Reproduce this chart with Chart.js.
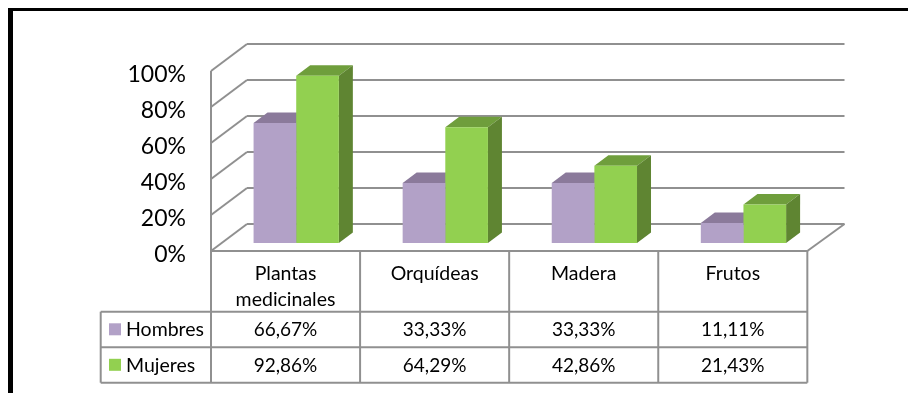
<!DOCTYPE html>
<html>
<head>
<meta charset="utf-8">
<script src="https://cdn.jsdelivr.net/npm/chart.js@4"></script>
<style>
  html, body { margin: 0; padding: 0; background: #fff; }
  canvas { display: block; }
</style>
</head>
<body>
<canvas id="chart" width="908" height="393"></canvas>
<script>
const categories = [["Plantas", "medicinales"], "Orquídeas", "Madera", "Frutos"];
const hombres = [66.67, 33.33, 33.33, 11.11];
const mujeres = [92.86, 64.29, 42.86, 21.43];
const yTicks = [0, 20, 40, 60, 80, 100];

const FONT = "Lato, sans-serif";
const GRID = "#909090";
// bars stand a little behind the front edge of the floor
const FRONT = { x: -10.67, y: 8 };
const BACK = { x: 25.33, y: -19 };
const BACK_RIGHT = 26.5;
const BAR_DEPTH = { x: 14, y: -10.5 };

function line(ctx, x1, y1, x2, y2) {
  ctx.beginPath();
  ctx.moveTo(x1, y1);
  ctx.lineTo(x2, y2);
  ctx.stroke();
}

function poly(ctx, pts, color) {
  ctx.fillStyle = color;
  ctx.beginPath();
  pts.forEach((p, i) => i ? ctx.lineTo(p[0], p[1]) : ctx.moveTo(p[0], p[1]));
  ctx.closePath();
  ctx.fill();
}

const box3d = {
  id: "box3d",
  beforeDatasetsDraw(chart) {
    const { ctx, chartArea, scales } = chart;
    const y = scales.y;
    const xa = chartArea.left + FRONT.x, xb = chartArea.right + FRONT.x;
    ctx.save();
    ctx.strokeStyle = GRID;
    ctx.lineWidth = 2;

    // back wall + side wall lines
    yTicks.forEach(v => {
      const p = y.getPixelForValue(v);
      line(ctx, chartArea.left + BACK.x, p + BACK.y, chartArea.right + BACK_RIGHT, p + BACK.y);
      line(ctx, xa, p + FRONT.y, chartArea.left + BACK.x, p + BACK.y);
    });
    line(ctx, xa, y.getPixelForValue(100) + FRONT.y, xa, y.getPixelForValue(0) + FRONT.y);
    // floor right edge
    const p0 = y.getPixelForValue(0);
    line(ctx, xb, p0 + FRONT.y, chartArea.right + BACK_RIGHT, p0 + BACK.y);

    // tops and sides, the fronts come from chart.js on top of these
    chart.data.datasets.forEach((ds, d) => {
      chart.getDatasetMeta(d).data.forEach(bar => {
        const l = bar.x - bar.width / 2, r = bar.x + bar.width / 2;
        const t = bar.y, b = bar.base;
        const dx = BAR_DEPTH.x, dy = BAR_DEPTH.y;
        poly(ctx, [[l, t], [r, t], [r + dx, t + dy], [l + dx, t + dy]], ds.topColor);
        poly(ctx, [[r, t], [r + dx, t + dy], [r + dx, b + dy], [r, b]], ds.sideColor);
      });
    });
    ctx.restore();
  },
  afterDraw(chart) {
    const { ctx, chartArea } = chart;
    const rows = [251, 311.7, 347.3, 382.7];
    const legendLeft = 100.7;
    const colW = (chartArea.right - chartArea.left) / categories.length;
    const xa = chartArea.left + FRONT.x;
    const xb = chartArea.right + FRONT.x;

    ctx.save();
    // frame
    ctx.fillStyle = "#000";
    ctx.fillRect(8, 8, 900, 3);
    ctx.fillRect(8, 8, 5, 385);

    // table grid
    ctx.strokeStyle = GRID;
    ctx.lineWidth = 2;
    line(ctx, xa, rows[0], xb, rows[0]);
    [rows[1], rows[2], rows[3]].forEach(r => line(ctx, legendLeft, r, xb, r));
    line(ctx, legendLeft, rows[1], legendLeft, rows[3]);
    for (let i = 0; i <= categories.length; i++) {
      line(ctx, xa + i * colW, rows[0], xa + i * colW, rows[3]);
    }

    // series rows
    ctx.textBaseline = "middle";
    chart.data.datasets.forEach((ds, d) => {
      const cy = (rows[d + 1] + rows[d + 2]) / 2;
      ctx.fillStyle = ds.backgroundColor;
      ctx.fillRect(109, cy - 6.2, 12, 12);
      ctx.fillStyle = "#000";
      ctx.font = "19.5px " + FONT;
      ctx.textAlign = "left";
      ctx.fillText(ds.label, 126, cy + 0.5);
      ctx.font = "19px " + FONT;
      ctx.textAlign = "center";
      ds.data.forEach((v, i) => {
        ctx.fillText(v.toFixed(2).replace(".", ",") + "%", xa + (i + 0.5) * colW, cy + 0.5);
      });
    });
    ctx.restore();
  }
};

new Chart(document.getElementById("chart"), {
  type: "bar",
  data: {
    labels: categories,
    datasets: [
      { label: "Hombres", data: hombres, backgroundColor: "#b2a1c7", topColor: "#8b7a9b", sideColor: "#6f5f85" },
      { label: "Mujeres", data: mujeres, backgroundColor: "#92d050", topColor: "#6f9e3c", sideColor: "#5f8532" }
    ]
  },
  plugins: [box3d],
  options: {
    responsive: false,
    animation: false,
    layout: { padding: { top: 63, right: 90, bottom: 0, left: 0 } },
    plugins: { legend: { display: false }, tooltip: { enabled: false } },
    datasets: { bar: { categoryPercentage: 0.572, barPercentage: 1 } },
    scales: {
      x: {
        grid: { display: false, drawTicks: false },
        border: { display: false },
        ticks: {
          color: "#000",
          font: { family: FONT, size: 19.5, lineHeight: 1.33 },
          padding: 18,
          maxRotation: 0,
          autoSkip: false,
          labelOffset: FRONT.x
        },
        afterFit: (scale) => { scale.height = 150; }
      },
      y: {
        min: 0,
        max: 100,
        grid: { display: false, drawTicks: false },
        border: { display: false },
        ticks: {
          stepSize: 20,
          color: "#000",
          font: { family: FONT, size: 23 },
          padding: 35.7,
          labelOffset: 12,
          callback: (value) => value + "%"
        },
        afterFit: (scale) => { scale.width = 221.67; }
      }
    }
  }
});
</script>
</body>
</html>
